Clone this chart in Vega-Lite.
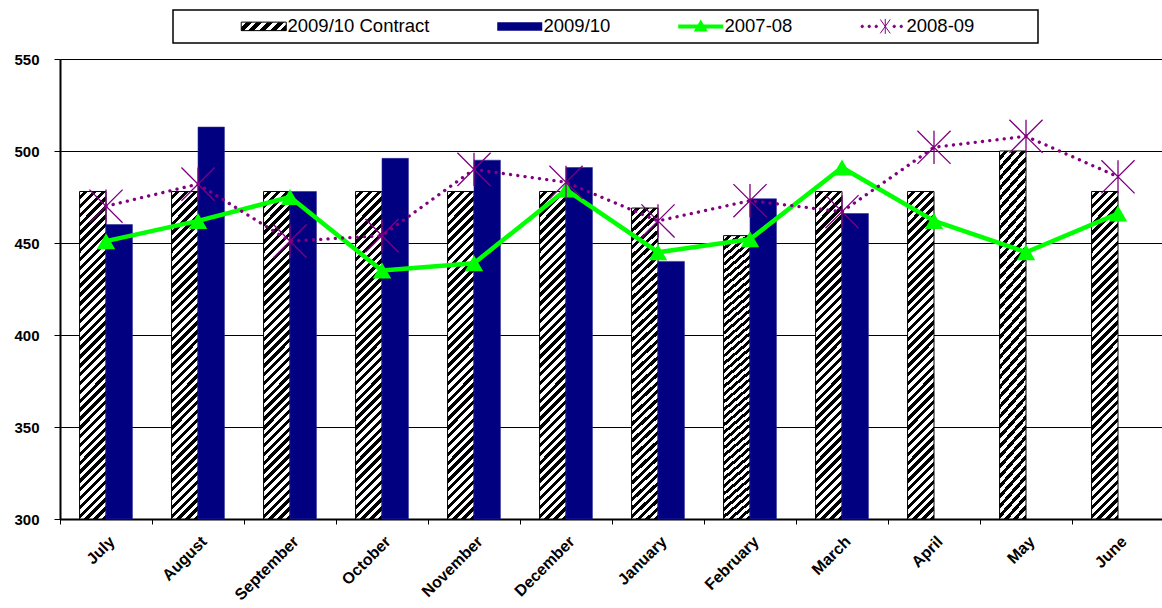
{
"$schema": "https://vega.github.io/schema/vega-lite/v6.json",
"width": 1104,
"height": 460,
"autosize": "none",
"padding": {"left": 60, "top": 59, "right": 0, "bottom": 89},
"background": "white",
"config": {"view": {"stroke": null}, "font": "Liberation Sans"},
"data": {"values": [
{"month":"July","series":"2009/10 Contract","value":478},
{"month":"August","series":"2009/10 Contract","value":478},
{"month":"September","series":"2009/10 Contract","value":478},
{"month":"October","series":"2009/10 Contract","value":478},
{"month":"November","series":"2009/10 Contract","value":478},
{"month":"December","series":"2009/10 Contract","value":478},
{"month":"January","series":"2009/10 Contract","value":469},
{"month":"February","series":"2009/10 Contract","value":454},
{"month":"March","series":"2009/10 Contract","value":478},
{"month":"April","series":"2009/10 Contract","value":478},
{"month":"May","series":"2009/10 Contract","value":500},
{"month":"June","series":"2009/10 Contract","value":478},
{"month":"July","series":"2009/10","value":460},
{"month":"August","series":"2009/10","value":513},
{"month":"September","series":"2009/10","value":478},
{"month":"October","series":"2009/10","value":496},
{"month":"November","series":"2009/10","value":495},
{"month":"December","series":"2009/10","value":491},
{"month":"January","series":"2009/10","value":440},
{"month":"February","series":"2009/10","value":474},
{"month":"March","series":"2009/10","value":466},
{"month":"July","series":"2007-08","value":451},
{"month":"August","series":"2007-08","value":462},
{"month":"September","series":"2007-08","value":475},
{"month":"October","series":"2007-08","value":435},
{"month":"November","series":"2007-08","value":439},
{"month":"December","series":"2007-08","value":479},
{"month":"January","series":"2007-08","value":445},
{"month":"February","series":"2007-08","value":452},
{"month":"March","series":"2007-08","value":491},
{"month":"April","series":"2007-08","value":462},
{"month":"May","series":"2007-08","value":445},
{"month":"June","series":"2007-08","value":466},
{"month":"July","series":"2008-09","value":470},
{"month":"August","series":"2008-09","value":482},
{"month":"September","series":"2008-09","value":451},
{"month":"October","series":"2008-09","value":454},
{"month":"November","series":"2008-09","value":490},
{"month":"December","series":"2008-09","value":483},
{"month":"January","series":"2008-09","value":462},
{"month":"February","series":"2008-09","value":473},
{"month":"March","series":"2008-09","value":467},
{"month":"April","series":"2008-09","value":502},
{"month":"May","series":"2008-09","value":508},
{"month":"June","series":"2008-09","value":486}
]},
"encoding": {
  "x": {"field": "month", "type": "nominal",
    "sort": ["July","August","September","October","November","December","January","February","March","April","May","June"],
    "scale": {"paddingInner": 0, "paddingOuter": 0},
    "axis": {"title": null, "labelAngle": -45, "labelFontWeight": "bold", "labelFontSize": 16, "labelFont": "Liberation Sans", "labelColor": "#000", "tickBand": "extent", "tickSize": 5, "tickColor": "#000", "tickWidth": 1, "domainColor": "#000", "domainWidth": 2, "labelPadding": 9, "grid": false}},
  "y": {"field": "value", "type": "quantitative",
    "scale": {"domain": [300, 550], "zero": false, "nice": false},
    "axis": {"title": null, "values": [300, 350, 400, 450, 500, 550], "grid": true, "gridColor": "#000", "gridWidth": 1, "labelFontWeight": "bold", "labelFontSize": 15, "labelFont": "Liberation Sans", "labelColor": "#000", "labelPadding": 15, "tickSize": 6, "tickColor": "#000", "domainColor": "#000", "domainWidth": 2}}
},
"layer": [
  {"transform": [{"filter": "datum.series === '2009/10 Contract'"}],
   "mark": {"type": "bar", "stroke": "#000", "strokeWidth": 1,
     "fill": {"gradient": "linear", "x1": 0, "y1": 0, "x2": 0.087, "y2": 1.074, "stops": [
{"offset":0,"color":"#fff"},{"offset":0.0125,"color":"#fff"},{"offset":0.0125,"color":"#000"},{"offset":0.025,"color":"#000"},
{"offset":0.025,"color":"#fff"},{"offset":0.0375,"color":"#fff"},{"offset":0.0375,"color":"#000"},{"offset":0.05,"color":"#000"},
{"offset":0.05,"color":"#fff"},{"offset":0.0625,"color":"#fff"},{"offset":0.0625,"color":"#000"},{"offset":0.075,"color":"#000"},
{"offset":0.075,"color":"#fff"},{"offset":0.0875,"color":"#fff"},{"offset":0.0875,"color":"#000"},{"offset":0.1,"color":"#000"},
{"offset":0.1,"color":"#fff"},{"offset":0.1125,"color":"#fff"},{"offset":0.1125,"color":"#000"},{"offset":0.125,"color":"#000"},
{"offset":0.125,"color":"#fff"},{"offset":0.1375,"color":"#fff"},{"offset":0.1375,"color":"#000"},{"offset":0.15,"color":"#000"},
{"offset":0.15,"color":"#fff"},{"offset":0.1625,"color":"#fff"},{"offset":0.1625,"color":"#000"},{"offset":0.175,"color":"#000"},
{"offset":0.175,"color":"#fff"},{"offset":0.1875,"color":"#fff"},{"offset":0.1875,"color":"#000"},{"offset":0.2,"color":"#000"},
{"offset":0.2,"color":"#fff"},{"offset":0.2125,"color":"#fff"},{"offset":0.2125,"color":"#000"},{"offset":0.225,"color":"#000"},
{"offset":0.225,"color":"#fff"},{"offset":0.2375,"color":"#fff"},{"offset":0.2375,"color":"#000"},{"offset":0.25,"color":"#000"},
{"offset":0.25,"color":"#fff"},{"offset":0.2625,"color":"#fff"},{"offset":0.2625,"color":"#000"},{"offset":0.275,"color":"#000"},
{"offset":0.275,"color":"#fff"},{"offset":0.2875,"color":"#fff"},{"offset":0.2875,"color":"#000"},{"offset":0.3,"color":"#000"},
{"offset":0.3,"color":"#fff"},{"offset":0.3125,"color":"#fff"},{"offset":0.3125,"color":"#000"},{"offset":0.325,"color":"#000"},
{"offset":0.325,"color":"#fff"},{"offset":0.3375,"color":"#fff"},{"offset":0.3375,"color":"#000"},{"offset":0.35,"color":"#000"},
{"offset":0.35,"color":"#fff"},{"offset":0.3625,"color":"#fff"},{"offset":0.3625,"color":"#000"},{"offset":0.375,"color":"#000"},
{"offset":0.375,"color":"#fff"},{"offset":0.3875,"color":"#fff"},{"offset":0.3875,"color":"#000"},{"offset":0.4,"color":"#000"},
{"offset":0.4,"color":"#fff"},{"offset":0.4125,"color":"#fff"},{"offset":0.4125,"color":"#000"},{"offset":0.425,"color":"#000"},
{"offset":0.425,"color":"#fff"},{"offset":0.4375,"color":"#fff"},{"offset":0.4375,"color":"#000"},{"offset":0.45,"color":"#000"},
{"offset":0.45,"color":"#fff"},{"offset":0.4625,"color":"#fff"},{"offset":0.4625,"color":"#000"},{"offset":0.475,"color":"#000"},
{"offset":0.475,"color":"#fff"},{"offset":0.4875,"color":"#fff"},{"offset":0.4875,"color":"#000"},{"offset":0.5,"color":"#000"},
{"offset":0.5,"color":"#fff"},{"offset":0.5125,"color":"#fff"},{"offset":0.5125,"color":"#000"},{"offset":0.525,"color":"#000"},
{"offset":0.525,"color":"#fff"},{"offset":0.5375,"color":"#fff"},{"offset":0.5375,"color":"#000"},{"offset":0.55,"color":"#000"},
{"offset":0.55,"color":"#fff"},{"offset":0.5625,"color":"#fff"},{"offset":0.5625,"color":"#000"},{"offset":0.575,"color":"#000"},
{"offset":0.575,"color":"#fff"},{"offset":0.5875,"color":"#fff"},{"offset":0.5875,"color":"#000"},{"offset":0.6,"color":"#000"},
{"offset":0.6,"color":"#fff"},{"offset":0.6125,"color":"#fff"},{"offset":0.6125,"color":"#000"},{"offset":0.625,"color":"#000"},
{"offset":0.625,"color":"#fff"},{"offset":0.6375,"color":"#fff"},{"offset":0.6375,"color":"#000"},{"offset":0.65,"color":"#000"},
{"offset":0.65,"color":"#fff"},{"offset":0.6625,"color":"#fff"},{"offset":0.6625,"color":"#000"},{"offset":0.675,"color":"#000"},
{"offset":0.675,"color":"#fff"},{"offset":0.6875,"color":"#fff"},{"offset":0.6875,"color":"#000"},{"offset":0.7,"color":"#000"},
{"offset":0.7,"color":"#fff"},{"offset":0.7125,"color":"#fff"},{"offset":0.7125,"color":"#000"},{"offset":0.725,"color":"#000"},
{"offset":0.725,"color":"#fff"},{"offset":0.7375,"color":"#fff"},{"offset":0.7375,"color":"#000"},{"offset":0.75,"color":"#000"},
{"offset":0.75,"color":"#fff"},{"offset":0.7625,"color":"#fff"},{"offset":0.7625,"color":"#000"},{"offset":0.775,"color":"#000"},
{"offset":0.775,"color":"#fff"},{"offset":0.7875,"color":"#fff"},{"offset":0.7875,"color":"#000"},{"offset":0.8,"color":"#000"},
{"offset":0.8,"color":"#fff"},{"offset":0.8125,"color":"#fff"},{"offset":0.8125,"color":"#000"},{"offset":0.825,"color":"#000"},
{"offset":0.825,"color":"#fff"},{"offset":0.8375,"color":"#fff"},{"offset":0.8375,"color":"#000"},{"offset":0.85,"color":"#000"},
{"offset":0.85,"color":"#fff"},{"offset":0.8625,"color":"#fff"},{"offset":0.8625,"color":"#000"},{"offset":0.875,"color":"#000"},
{"offset":0.875,"color":"#fff"},{"offset":0.8875,"color":"#fff"},{"offset":0.8875,"color":"#000"},{"offset":0.9,"color":"#000"},
{"offset":0.9,"color":"#fff"},{"offset":0.9125,"color":"#fff"},{"offset":0.9125,"color":"#000"},{"offset":0.925,"color":"#000"},
{"offset":0.925,"color":"#fff"},{"offset":0.9375,"color":"#fff"},{"offset":0.9375,"color":"#000"},{"offset":0.95,"color":"#000"},
{"offset":0.95,"color":"#fff"},{"offset":0.9625,"color":"#fff"},{"offset":0.9625,"color":"#000"},{"offset":0.975,"color":"#000"},
{"offset":0.975,"color":"#fff"},{"offset":0.9875,"color":"#fff"},{"offset":0.9875,"color":"#000"},{"offset":1,"color":"#000"}
     ]}},
   "encoding": {
     "xOffset": {"field": "series", "type": "nominal", "sort": ["2009/10 Contract", "2009/10"], "scale": {"domain": ["2009/10 Contract", "2009/10"], "paddingInner": 0, "paddingOuter": 0.74}},
     "y2": {"datum": 300}}},
  {"transform": [{"filter": "datum.series === '2009/10'"}],
   "mark": {"type": "bar", "fill": "#000080", "stroke": "#2a2a99", "strokeWidth": 0.6},
   "encoding": {
     "xOffset": {"field": "series", "type": "nominal", "sort": ["2009/10 Contract", "2009/10"], "scale": {"domain": ["2009/10 Contract", "2009/10"], "paddingInner": 0, "paddingOuter": 0.74}},
     "y2": {"datum": 300}}},
  {"transform": [{"filter": "datum.series === '2007-08'"}],
   "mark": {"type": "line", "strokeWidth": 4.5, "strokeJoin": "round"},
   "encoding": {
     "color": {"field": "series", "type": "nominal",
       "scale": {"domain": ["2009/10 Contract", "2009/10", "2007-08", "2008-09"], "range": ["#000000", "#000080", "#00ff00", "#800080"]},
       "legend": {
         "orient": "none", "legendX": 113, "legendY": -49, "direction": "horizontal", "columns": 4,
         "padding": 7, "columnPadding": 63, "gridAlign": "each",
         "title": "\u2800\u2800\u2800\u2800", "titleOrient": "left", "titleFontSize": 18.5, "titleFont": "Liberation Sans", "titlePadding": 1, "titleColor": "#fff",
         "labelFontSize": 18.5, "labelFont": "Liberation Sans", "labelColor": "#000", "labelLimit": 400, "labelOffset": 32,
         "labelExpr": "datum.label === '2008-09' ? '2008-09\u2800\u2800\u2800\u2800' : datum.label",
         "symbolSize": 100,
         "encode": {
           "legend": {"update": {"stroke": {"value": "#000"}, "strokeWidth": {"value": 1.5}, "fill": {"value": "#fff"}}},
           "symbols": {"update": {
             "size": {"value": 100},
             "opacity": {"value": 1},
             "shape": {"signal": "datum.value === '2007-08' ? 'M-1,-0.4H8V0.4H-1ZM2.1,1L3.5,-1.4L4.9,1Z' : datum.value === '2008-09' ? 'M-0.85,0a0.25,0.25 0 1,0 0.5,0a0.25,0.25 0 1,0 -0.5,0M0.55,0a0.25,0.25 0 1,0 0.5,0a0.25,0.25 0 1,0 -0.5,0M1.95,0a0.25,0.25 0 1,0 0.5,0a0.25,0.25 0 1,0 -0.5,0M5.55,0a0.25,0.25 0 1,0 0.5,0a0.25,0.25 0 1,0 -0.5,0M6.95,0a0.25,0.25 0 1,0 0.5,0a0.25,0.25 0 1,0 -0.5,0M3,-1.4L5,1.4M3,1.4L5,-1.4M4,-1.5V1.5' : 'M-1,-0.85H8V0.85H-1Z'"},
             "fill": {"signal": "datum.value === '2009/10 Contract' ? {gradient: 'linear', x1: 0, y1: 0, x2: 1.148, y2: 0.217, stops: [{offset: 0, color: '#fff'}, {offset: 0.09, color: '#fff'}, {offset: 0.09, color: '#000'}, {offset: 0.2, color: '#000'}, {offset: 0.2, color: '#fff'}, {offset: 0.29, color: '#fff'}, {offset: 0.29, color: '#000'}, {offset: 0.4, color: '#000'}, {offset: 0.4, color: '#fff'}, {offset: 0.49, color: '#fff'}, {offset: 0.49, color: '#000'}, {offset: 0.6, color: '#000'}, {offset: 0.6, color: '#fff'}, {offset: 0.69, color: '#fff'}, {offset: 0.69, color: '#000'}, {offset: 0.8, color: '#000'}, {offset: 0.8, color: '#fff'}, {offset: 0.89, color: '#fff'}, {offset: 0.89, color: '#000'}, {offset: 1, color: '#000'}]} : datum.value === '2009/10' ? '#000080' : datum.value === '2007-08' ? '#00ff00' : '#800080'"},
             "stroke": {"signal": "datum.value === '2009/10 Contract' ? '#000' : datum.value === '2009/10' ? '#000080' : datum.value === '2007-08' ? '#00ff00' : '#800080'"},
             "strokeWidth": {"signal": "datum.value === '2009/10 Contract' ? 1 : datum.value === '2008-09' ? 1 : 0"},
             "strokeDash": {"value": []}
           }}
         }
       }}}},
  {"transform": [{"filter": "datum.series === '2008-09'"}],
   "mark": {"type": "line", "color": "#800080", "strokeWidth": 3.3, "strokeDash": [0.1, 7.2], "strokeCap": "round"},
   "encoding": {}},
  {"transform": [{"filter": "datum.series === '2007-08'"}],
   "mark": {"type": "point", "shape": "triangle-up", "filled": true, "color": "#00ff00", "size": 340, "opacity": 1, "strokeWidth": 0}},
  {"transform": [{"filter": "datum.series === '2008-09'"}],
   "mark": {"type": "point", "shape": "M-1,-1L1,1M-1,1L1,-1M0,-1V1", "filled": false, "color": "#800080", "strokeWidth": 1.3, "size": 1100, "opacity": 1}}
]
}
